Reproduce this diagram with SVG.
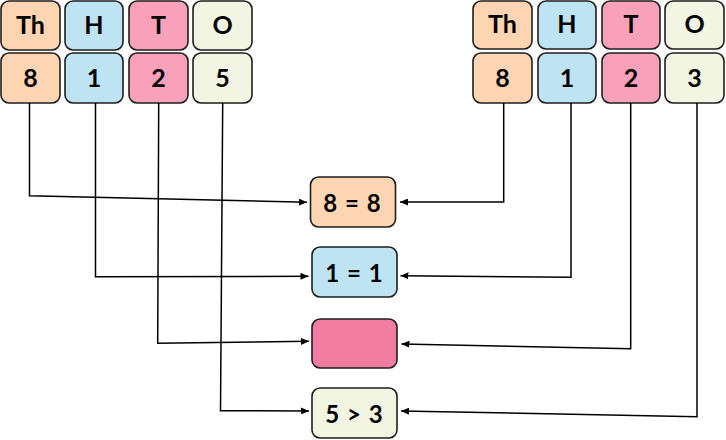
<svg xmlns="http://www.w3.org/2000/svg" width="726" height="440" viewBox="0 0 726 440">
<defs>
<marker id="arr" markerUnits="userSpaceOnUse" markerWidth="8" markerHeight="7" refX="8" refY="3.5" orient="auto">
<path d="M0,0 L8,3.5 L0,7 z" fill="#000"/>
</marker>
<style>
.box{stroke:#1e1e1e;stroke-width:1.6}
.th{fill:#fdd5b3}.h{fill:#bee3f2}.t{fill:#f9a1bb}.o{fill:#f2f5e2}.p{fill:#f07ca2}
.lbl{font-family:Lato,"Open Sans",sans-serif;font-weight:bold;font-size:25px;fill:#000;text-anchor:middle}
.cl{font-family:Lato,"Open Sans",sans-serif;font-weight:bold;font-size:24px;word-spacing:2px;fill:#000;text-anchor:middle}
.con{fill:none;stroke:#000;stroke-width:1.5;marker-end:url(#arr)}
</style>
</defs>
<rect width="726" height="440" fill="#fff"/>
<g id="left-th"><rect class="box th" x="1" y="1" width="59" height="49" rx="8"/><text class="lbl" x="30.5" y="34">Th</text></g>
<g id="left-h"><rect class="box h" x="65" y="1" width="58" height="49" rx="8"/><text class="lbl" x="94" y="34">H</text></g>
<g id="left-t"><rect class="box t" x="129" y="1" width="59" height="49" rx="8"/><text class="lbl" x="158.5" y="34">T</text></g>
<g id="left-o"><rect class="box o" x="193" y="1" width="59" height="49" rx="8"/><text class="lbl" x="222.5" y="34">O</text></g>
<g id="left-8"><rect class="box th" x="1" y="53" width="59" height="50" rx="8"/><text class="lbl" x="30.5" y="87">8</text></g>
<g id="left-1"><rect class="box h" x="65" y="53" width="58" height="50" rx="8"/><text class="lbl" x="94" y="87">1</text></g>
<g id="left-2"><rect class="box t" x="129" y="53" width="59" height="50" rx="8"/><text class="lbl" x="158.5" y="87">2</text></g>
<g id="left-5"><rect class="box o" x="193" y="53" width="59" height="50" rx="8"/><text class="lbl" x="222.5" y="87">5</text></g>
<g id="right-th"><rect class="box th" x="473" y="1" width="59" height="48" rx="8"/><text class="lbl" x="502.5" y="33">Th</text></g>
<g id="right-h"><rect class="box h" x="538" y="1" width="58" height="48" rx="8"/><text class="lbl" x="567" y="33">H</text></g>
<g id="right-t"><rect class="box t" x="602" y="1" width="58" height="48" rx="8"/><text class="lbl" x="631" y="33">T</text></g>
<g id="right-o"><rect class="box o" x="665" y="1" width="59" height="48" rx="8"/><text class="lbl" x="694.5" y="33">O</text></g>
<g id="right-8"><rect class="box th" x="473" y="53" width="59" height="50" rx="8"/><text class="lbl" x="502.5" y="87">8</text></g>
<g id="right-1"><rect class="box h" x="538" y="53" width="58" height="50" rx="8"/><text class="lbl" x="567" y="87">1</text></g>
<g id="right-2"><rect class="box t" x="602" y="53" width="58" height="50" rx="8"/><text class="lbl" x="631" y="87">2</text></g>
<g id="right-3"><rect class="box o" x="665" y="53" width="59" height="50" rx="8"/><text class="lbl" x="694.5" y="87">3</text></g>
<g id="cmp-th"><rect class="box th" x="310.5" y="177" width="85" height="50" rx="8"/><text class="cl" x="352" y="212">8 = 8</text></g>
<g id="cmp-h"><rect class="box h" x="312" y="247" width="85" height="50" rx="8"/><text class="cl" x="354" y="282">1 = 1</text></g>
<g id="cmp-t"><rect class="box p" x="312" y="319" width="85" height="49" rx="8"/></g>
<g id="cmp-o"><rect class="box o" x="312" y="388" width="85" height="50" rx="8"/><text class="cl" x="354" y="423">5 &gt; 3</text></g>
<g id="connectors">
<path class="con" d="M29.5,103 V195.7 L307,202.3"/>
<path class="con" d="M95.5,103 V276.7 L308.5,276.3"/>
<path class="con" d="M158.7,103 L157.7,343.3 L309,341.3"/>
<path class="con" d="M222.7,103 L220.5,410.7 L309,411"/>
<path class="con" d="M503.7,103 V202 L400,202"/>
<path class="con" d="M571,103 V277.3 L400.5,275.7"/>
<path class="con" d="M630.7,103 V348.7 L401.5,344"/>
<path class="con" d="M697,103 V416.7 L401,411"/>
</g>
</svg>
